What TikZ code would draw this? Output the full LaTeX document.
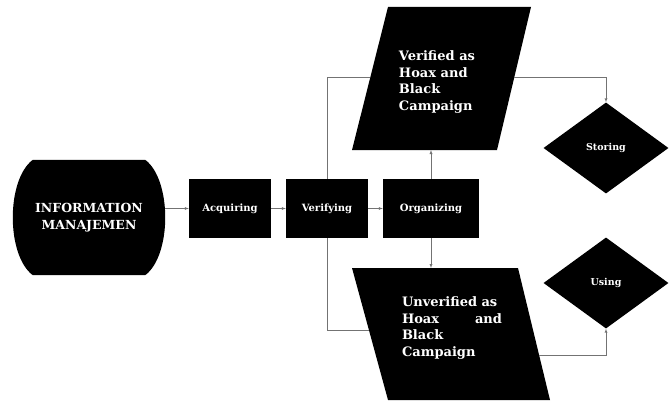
\documentclass[tikz,border=0pt]{standalone}
\usepackage{fontspec}
\setmainfont{DejaVu Serif}
\usetikzlibrary{calc,positioning,arrows,shapes.geometric}
\pgfdeclarelayer{back}
\pgfsetlayers{back,main}

\tikzset{
  blk/.style={fill=black,text=white,font=\bfseries},
  stepbox/.style={blk,rectangle,minimum height=59pt,font=\bfseries\fontsize{10}{11}\selectfont},
  decide/.style={blk,diamond,minimum width=125pt,minimum height=91pt,inner sep=0pt,font=\bfseries\fontsize{9.5}{10}\selectfont},
  ptext/.style={text=white,font=\bfseries\fontsize{13}{16.5}\selectfont,align=left,inner sep=0pt},
  conn/.style={draw=black!55,thin},
  arr/.style={conn,-latex}
}

\begin{document}
\begin{tikzpicture}[x=1pt,y=1pt]
\useasboundingbox (0,0) rectangle (670,400);

%start
\node[text=white,minimum width=152pt,minimum height=115pt,align=center,
  font=\bfseries\fontsize{12.5}{17}\selectfont] (info) at (89,182.5) {INFORMATION\\MANAJEMEN};
\begin{pgfonlayer}{back}
\fill ($(info.north west)+(20,0)$) -- ($(info.north east)+(-20,0)$)
  .. controls ($(info.north east)+(6.7,-20)$) and ($(info.south east)+(6.7,20)$) .. ($(info.south east)+(-20,0)$)
  -- ($(info.south west)+(20,0)$)
  .. controls ($(info.south west)+(-6.7,20)$) and ($(info.north west)+(-6.7,-20)$) .. cycle;
\end{pgfonlayer}

%process steps
\node[stepbox,minimum width=82pt] (acq) at (230,191.5) {Acquiring};
\node[stepbox,minimum width=82pt] (ver) at (327,191.5) {Verifying};
\node[stepbox,minimum width=96pt] (org) at (431,191.5) {Organizing};

%verified data
\coordinate (vbl) at (352,250);
\coordinate (vbr) at (497,250);
\coordinate (vtr) at (531,393);
\coordinate (vtl) at (388,393);
\fill (vbl) -- (vbr) -- (vtr) -- (vtl) -- cycle;
\node[ptext] (veriftext) at (437,318)
  {Verified as\\Hoax and\\Black\\Campaign};

%unverified data
\coordinate (utl) at (352,132);
\coordinate (utr) at (518,132);
\coordinate (ubr) at (550,0);
\coordinate (ubl) at (388,0);
\fill (utl) -- (utr) -- (ubr) -- (ubl) -- cycle;
\node[ptext,text width=100pt] (unveriftext) at (452,72)
  {Unverified~as\\Hoax \hfill and\\Black\\Campaign};

%decisions
\node[decide] (storing) at (606,252) {Storing};
\node[decide] (using) at (606,117) {Using};

%connectors
\coordinate (vin) at ($(vbl)!0.51!(vtl)$);
\coordinate (vout) at ($(vbr)!0.51!(vtr)$);
\coordinate (uin) at ($(utl)!0.47!(ubl)$);
\coordinate (uout) at ($(utr)!0.66!(ubr)$);
\draw[arr] (info.east |- acq.west) -- (acq.west);
\draw[arr] (acq) -- (ver);
\draw[arr] (ver) -- (org);
\draw[conn] (ver.north) |- (vin);
\draw[conn] (ver.south) |- (uin);
\draw[arr] (org.north) -- (org.north |- vbl);
\draw[arr] (org.south) -- (org.south |- utl);
\draw[arr] (vout) -| (storing);
\draw[arr] (uout) -| (using);

\end{tikzpicture}
\end{document}
